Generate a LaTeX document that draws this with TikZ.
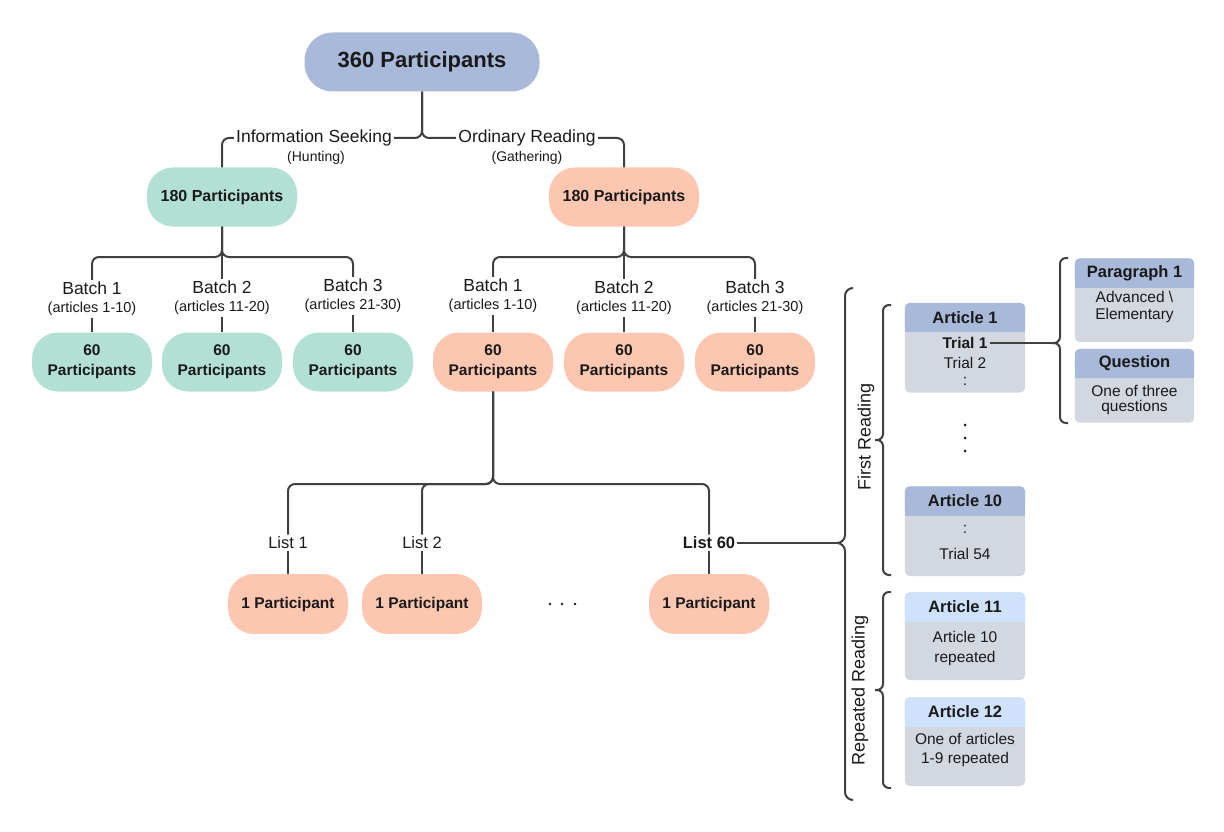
\documentclass[tikz,border=0pt]{standalone}
\usepackage{fontspec}
\setmainfont{Liberation Sans}
\usetikzlibrary{backgrounds,calc}
\definecolor{cblue}{HTML}{A9B9D9}
\definecolor{cmint}{HTML}{B3E0D4}
\definecolor{cpeach}{HTML}{FDC6B1}
\definecolor{cgrey}{HTML}{D3D7E0}
\definecolor{clight}{HTML}{CFE2FC}
\definecolor{cline}{HTML}{404040}
\definecolor{ctext}{HTML}{1A1A1A}
\newcommand\myfs[2]{\fontsize{#1}{#2}\selectfont}
\newcommand\mkbg[3]{%
  \begin{pgfonlayer}{background}
    \fill[cgrey,rounded corners=5pt] (#1.north west) rectangle (#2.south east);
    \fill[#3,rounded corners=5pt] (#1.north west) rectangle (#1.south east);
    \fill[#3] (#1.west) rectangle (#1.south east);
  \end{pgfonlayer}}
\tikzset{
  conn/.style={draw=cline, line width=2pt, rounded corners=7pt},
  pill/.style={rounded corners=26pt, minimum height=59pt, align=center, inner sep=0pt, text=ctext},
  n180/.style={pill, minimum width=150pt, font=\myfs{16}{19}\bfseries},
  n60/.style={pill, minimum width=120pt, font=\myfs{15.5}{20}\bfseries},
  n1/.style={pill, minimum width=120pt, minimum height=60pt, font=\myfs{15.5}{19}\bfseries},
  lbl/.style={inner sep=2pt, font=\myfs{17.5}{20}, text=ctext},
  sub/.style={inner sep=1pt, font=\myfs{14}{16}, text=ctext},
  batch/.style={inner sep=2pt, align=center, text=ctext, font=\myfs{14.5}{18}},
  hdr/.style={minimum width=120pt, minimum height=29pt, inner sep=0pt, font=\myfs{16.5}{19}\bfseries, text=ctext},
  bodyn/.style={minimum width=120pt, inner sep=0pt},
  btxt/.style={inner sep=0pt, align=center, font=\myfs{15.5}{17}, text=ctext},
  side/.style={rotate=90, font=\myfs{18}{21}, text=ctext, inner sep=0pt},
  dotc/.style={fill=ctext}
}
\begin{document}
\begin{tikzpicture}[x=1pt,y=-1pt]
\useasboundingbox (0,0) rectangle (1224,832);

% ---- top level
\node[pill, fill=cblue, minimum width=235pt, rounded corners=28pt, font=\myfs{22}{26}\bfseries] (top) at (422,62) {360 Participants};
\node[n180, fill=cmint] (gL) at (222,197) {180 Participants};
\node[n180, fill=cpeach] (gR) at (624,197) {180 Participants};
\draw[conn] (gL.north) |- (422,138) -- (top.south);
\draw[conn] (gR.north) |- (422,138) -- (top.south);
\node[lbl, fill=white] (isk) at (314,138) {Information Seeking};
\node[sub] (hunt) at (316,158) {(Hunting)};
\node[lbl, fill=white] (ord) at (527,138) {Ordinary Reading};
\node[sub] (gath) at (527,158) {(Gathering)};

% ---- left batches
\node[n60, fill=cmint] (mL1) at (92,362) {60\\Participants};
\node[n60, fill=cmint] (mL2) at (222,362) {60\\Participants};
\node[n60, fill=cmint] (mL3) at (353,362) {60\\Participants};
\node[batch] (bL1) at (92,299) {{\myfs{17.5}{19}Batch 1}\\(articles 1-10)};
\node[batch] (bL2) at (222,298) {{\myfs{17.5}{19}Batch 2}\\(articles 11-20)};
\node[batch] (bL3) at (353,296) {{\myfs{17.5}{19}Batch 3}\\(articles 21-30)};
\draw[conn] (bL1.north) |- (222,257) -- (gL.south);
\draw[conn] (bL3.north) |- (222,257) -- (gL.south);
\draw[conn] (bL2.north) -- (gL.south);
\draw[conn] (bL1.south) -- (mL1.north);
\draw[conn] (bL2.south) -- (mL2.north);
\draw[conn] (bL3.south) -- (mL3.north);

% ---- right batches
\node[n60, fill=cpeach] (mR1) at (493,362) {60\\Participants};
\node[n60, fill=cpeach] (mR2) at (624,362) {60\\Participants};
\node[n60, fill=cpeach] (mR3) at (755,362) {60\\Participants};
\node[batch] (bR1) at (493,296) {{\myfs{17.5}{19}Batch 1}\\(articles 1-10)};
\node[batch] (bR2) at (624,298) {{\myfs{17.5}{19}Batch 2}\\(articles 11-20)};
\node[batch] (bR3) at (755,298) {{\myfs{17.5}{19}Batch 3}\\(articles 21-30)};
\draw[conn] (bR1.north) |- (624,257) -- (gR.south);
\draw[conn] (bR3.north) |- (624,257) -- (gR.south);
\draw[conn] (bR2.north) -- (gR.south);
\draw[conn] (bR1.south) -- (mR1.north);
\draw[conn] (bR2.south) -- (mR2.north);
\draw[conn] (bR3.south) -- (mR3.north);

% ---- lists
\node[n1, fill=cpeach] (p1) at (288,604) {1 Participant};
\node[n1, fill=cpeach] (p2) at (422,604) {1 Participant};
\node[n1, fill=cpeach] (p60) at (709,604) {1 Participant};
\node[lbl, font=\myfs{16.5}{19}] (ls1) at (288,543) {List 1};
\node[lbl, font=\myfs{16.5}{19}] (ls2) at (422,543) {List 2};
\node[lbl, font=\myfs{16.5}{19}\bfseries] (ls60) at (709,543) {List 60};
\draw[conn] (ls1.north) |- (493,484) -- (mR1.south);
\draw[conn] (ls2.north) |- (493,484) -- (mR1.south);
\draw[conn] (ls60.north) |- (493,484) -- (mR1.south);
\draw[conn] (ls1.south) -- (p1.north);
\draw[conn] (ls2.south) -- (p2.north);
\draw[conn] (ls60.south) -- (p60.north);
\fill[dotc] (550,604) circle (1.4pt) (562,604) circle (1.4pt) (575,604) circle (1.4pt);

% ---- big brace
\coordinate (bigtip) at (837,543);
\draw[conn, rounded corners=8pt] (853,288) -- (845,288) -- (845,543) -- (bigtip);
\draw[conn, rounded corners=8pt] (853,800) -- (845,800) -- (845,543) -- (bigtip);
\draw[conn] (ls60.east) -- (bigtip);

% ---- first reading
\node[side] (frl) at (866,437) {First Reading};
\draw[conn, rounded corners=6pt] (891,305) -- (883,305) -- (883,440) -- (875,440);
\draw[conn, rounded corners=6pt] (891,575) -- (883,575) -- (883,440) -- (875,440);

\node[hdr] (a1h) at (965,317.5) {Article 1};
\node[bodyn, minimum height=60pt, anchor=north] (a1b) at (a1h.south) {};
\mkbg{a1h}{a1b}{cblue}
\node[btxt, font=\myfs{15.5}{17}\bfseries] (t1) at (965,343) {Trial 1};
\node[btxt] (t2) at (965,363) {Trial 2};
\node[btxt] (t3) at (965,381) {:};

\fill[dotc] (965,425) circle (1.5pt) (965,438) circle (1.5pt) (965,451) circle (1.5pt);

\node[hdr] (a10h) at (965,501) {Article 10};
\node[bodyn, minimum height=60pt, anchor=north] (a10b) at (a10h.south) {};
\mkbg{a10h}{a10b}{cblue}
\node[btxt] (a10c) at (965,529) {:};
\node[btxt] (a10t) at (965,554) {Trial 54};

% ---- repeated reading
\node[side] (rrl) at (860,690) {Repeated Reading};
\draw[conn, rounded corners=6pt] (891,592) -- (883,592) -- (883,690) -- (875,690);
\draw[conn, rounded corners=6pt] (891,788) -- (883,788) -- (883,690) -- (875,690);

\node[hdr] (a11h) at (965,607) {Article 11};
\node[bodyn, minimum height=58pt, anchor=north] (a11b) at (a11h.south) {};
\mkbg{a11h}{a11b}{clight}
\node[btxt, font=\myfs{15.5}{20}] (a11t) at (965,648) {Article 10\\repeated};

\node[hdr] (a12h) at (965,712) {Article 12};
\node[bodyn, minimum height=59pt, anchor=north] (a12b) at (a12h.south) {};
\mkbg{a12h}{a12b}{clight}
\node[btxt, font=\myfs{15.5}{19}] (a12t) at (965,749.5) {One of articles\\1-9 repeated};

% ---- paragraph / question
\coordinate (ptip) at (1052,343);
\draw[conn, rounded corners=6pt] (1068,258) -- (1060,258) -- (1060,343) -- (ptip);
\draw[conn, rounded corners=6pt] (1068,423) -- (1060,423) -- (1060,343) -- (ptip);
\draw[conn] (t1.east) ++(2pt,0) -- (ptip);

\node[hdr, minimum width=119pt] (ph) at (1134.5,273) {Paragraph 1};
\node[bodyn, minimum width=119pt, minimum height=54pt, anchor=north] (pb) at (ph.south) {};
\mkbg{ph}{pb}{cblue}
\node[btxt, font=\myfs{15.5}{17}] (pt) at (1134.5,306.5) {Advanced \textbackslash\\Elementary};

\node[hdr, minimum width=119pt] (qh) at (1134.5,363.5) {Question};
\node[bodyn, minimum width=119pt, minimum height=44pt, anchor=north] (qb) at (qh.south) {};
\mkbg{qh}{qb}{cblue}
\node[btxt, font=\myfs{15.5}{15}] (qt) at (1134.5,399.5) {One of three\\questions};
\end{tikzpicture}
\end{document}
